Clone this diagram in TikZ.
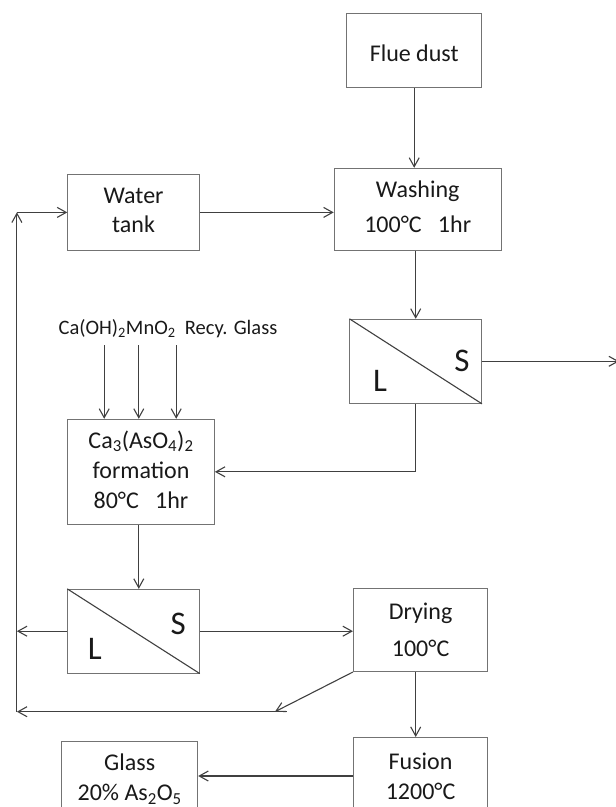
\documentclass[tikz,border=0pt]{standalone}
\usepackage{fontspec}
\setmainfont{Carlito}
\usetikzlibrary{arrows.meta}

\begin{document}
\begin{tikzpicture}[
  x=1pt, y=-1pt,
  font=\fontsize{24}{30}\selectfont,
  text=black!90,
  box/.style={draw=black!55, line width=1pt, align=center, inner sep=0pt},
  sepbox/.style={draw=black!55, line width=1pt, minimum width=131.5pt, minimum height=84pt, inner sep=0pt},
  lsmark/.style={font=\fontsize{33}{36}\selectfont, inner sep=0pt},
  feed/.style={font=\fontsize{20.5}{24}\selectfont, inner sep=0pt},
  arrow/.style={-{Straight Barb[length=9pt,width=10pt]}, line width=1.1pt, draw=black!75},
  link/.style={line width=1.1pt, draw=black!75}
]
\clip (0,0) rectangle (616,807);

\node[box, minimum width=134.7pt, minimum height=73.7pt, text height=22.5pt] (flue) at (414.2,50.8) {Flue dust};
\node[box, minimum width=167pt, minimum height=82.4pt, text depth=5.4pt] (washing) at (417.7,209.5) {Washing\\[4.4pt]100°C~~~1hr};
\node[box, minimum width=131.6pt, minimum height=76.7pt, text depth=4pt] (water) at (133.6,212.4) {Water\\[-1pt]tank};
\node[sepbox] (ls1) at (415.7,361.3) {};
\node[lsmark] (ls1s) at (462,361) {S};
\node[lsmark] (ls1l) at (380,380.5) {L};

\node[feed, anchor=base] (feeds) at (168,334) {Ca(OH)\textsubscript{2}MnO\textsubscript{2}~~Recy. Glass};
\node[box, minimum width=146.8pt, minimum height=105pt, text depth=5pt] (formation) at (141,471.8) {Ca\textsubscript{3}(AsO\textsubscript{4})\textsubscript{2}\\formation\\80°C~~~1hr};

\node[sepbox, minimum height=83.7pt] (ls2) at (133.5,631.2) {};
\node[lsmark] (ls2s) at (178.3,623.7) {S};
\node[lsmark] (ls2l) at (94.7,648.8) {L};
\node[box, minimum width=134.3pt, minimum height=82.8pt] (drying) at (420.6,630.1) {Drying\\[7pt]100°C};
\node[box, minimum width=134.3pt, minimum height=77pt] (fusion) at (420.6,776) {Fusion\\1200°C};
\node[box, minimum width=136pt, minimum height=76pt] (glass) at (129.7,779.5) {Glass\\20\% As\textsubscript{2}O\textsubscript{5}};

\coordinate (f1) at (104.2,345);
\coordinate (f2) at (138.8,345);
\coordinate (f3) at (176.2,345);
\coordinate (solid) at (619,363.3);
\coordinate (lbot) at (16.9,711.7);
\coordinate (dtip) at (275,711.7);
\coordinate (rtn) at (286.7,711.7);

\draw[link] (ls1.north west) -- (ls1.south east);
\draw[link] (ls2.north west) -- (ls2.south east);

\draw[arrow] (flue.south) -- (flue.south |- washing.north);
\draw[arrow] (water.east) -- (water.east -| washing.west);
\draw[arrow] (ls1.north |- washing.south) -- (ls1.north);
\draw[arrow] (ls1.east) -- (ls1.east -| solid);
\draw[arrow] (ls1.south) |- (formation.east);
\draw[arrow] (f1) -- (f1 |- formation.north);
\draw[arrow] (f2) -- (f2 |- formation.north);
\draw[arrow] (f3) -- (f3 |- formation.north);
\draw[arrow] (formation.south -| f2) -- (ls2.north -| f2);
\draw[arrow] (ls2.east) -- (ls2.east -| drying.west);
\draw[arrow] (ls2.west) -- (ls2.west -| lbot);
\draw[arrow] (drying.south west) -- (dtip);
\draw[arrow] (rtn) -- (lbot);
\draw[arrow] (lbot) -- (lbot |- water.west);
\draw[arrow] (lbot |- water.west) -- (water.west);
\draw[arrow] (drying.south -| ls1.south) -- (fusion.north -| ls1.south);
\draw[arrow] (fusion.west) -- (fusion.west -| glass.east);
\end{tikzpicture}
\end{document}
